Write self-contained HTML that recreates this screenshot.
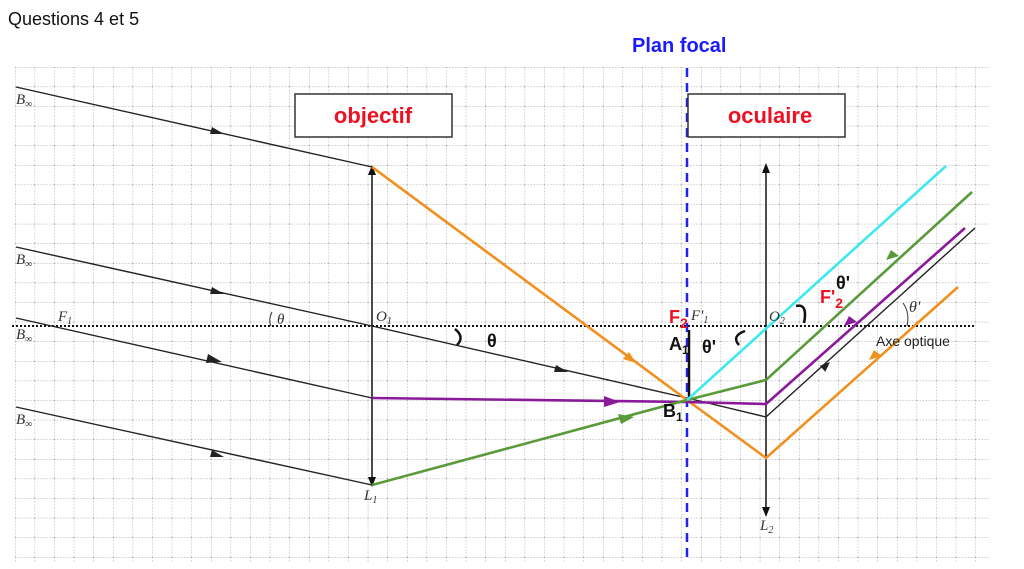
<!DOCTYPE html>
<html><head><meta charset="utf-8"><style>
html,body{margin:0;padding:0;background:#fff;}
svg{display:block;}
</style></head><body>
<svg width="1024" height="569" viewBox="0 0 1024 569" xmlns="http://www.w3.org/2000/svg" font-family="Liberation Sans, sans-serif">
<defs>
<pattern id="g" x="15" y="67" width="19.6" height="19.6" patternUnits="userSpaceOnUse">
<path d="M0 0V19.6M0 0H19.6" stroke="#999" stroke-width="0.9" stroke-dasharray="1.5 1.5" fill="none"/>
</pattern>
</defs>
<rect width="1024" height="569" fill="#fff"/>
<rect x="15" y="67" width="975" height="495" fill="url(#g)"/>
<text x="8" y="25" font-size="18" fill="#111">Questions 4 et 5</text>
<text x="632" y="52" font-size="20" font-weight="bold" fill="#1a1aff">Plan focal</text>
<!-- axis -->
<line x1="12" y1="326" x2="975" y2="326" stroke="#111" stroke-width="2" stroke-dasharray="2 2"/>
<!-- lenses -->
<line x1="372" y1="172" x2="372" y2="480" stroke="#111" stroke-width="1.5"/>
<path d="M372 165l-4 10h8z M372 487l-4-10h8z" fill="#111"/>
<line x1="766" y1="170" x2="766" y2="510" stroke="#111" stroke-width="1.5"/>
<path d="M766 163l-4 10h8z M766 517l-4-10h8z" fill="#111"/>
<!-- incident rays -->
<g stroke="#222" stroke-width="1.4" fill="none">
<polyline points="16,87 372,167"/>
<polyline points="16,247 372,326 687,398 766,417 975,228"/>
<polyline points="16,318 372,398"/>
<polyline points="16,407 372,485"/>
</g>
<g fill="#222">
<path d="M224 134l-12-7 -2 7z"/><path d="M224 294l-12-7 -2 7z"/><path d="M222 362l-14-8 -2 9z"/><path d="M224 457l-12-7 -2 7z"/><path d="M568 372l-12-7 -2 7z"/>
<path d="M830 362l-4.7 9.7 -5.4-6z"/>
</g>
<!-- focal plane -->
<line x1="687" y1="68" x2="687" y2="562" stroke="#2222ee" stroke-width="2.5" stroke-dasharray="9 6"/>
<!-- A1B1 -->
<line x1="689" y1="330" x2="689" y2="400" stroke="#111" stroke-width="2.5"/>
<!-- colored rays -->
<g fill="none" stroke-width="2.6">
<polyline points="372,167 687,400 766,458 958,287" stroke="#f0901e"/>
<polyline points="372,398 687,402 766,404 965,228" stroke="#8a1a9a"/>
<polyline points="372,485 687,400 766,380 972,192" stroke="#5a9a3a"/>
<line x1="687" y1="400" x2="946" y2="166" stroke="#3ee8f0"/>
</g>
<g>
<path d="M636 363l-13-4 6 -7z" fill="#f0901e"/>
<path d="M882 356l-13 4 5-10z" fill="#f0901e"/>
<path d="M620 402l-16-6v11z" fill="#8a1a9a"/>
<path d="M857 322l-13 4 5-10z" fill="#8a1a9a"/>
<path d="M634 417l-16-3 3 10z" fill="#5a9a3a"/>
<path d="M899 256l-13 4 5-10z" fill="#5a9a3a"/>
</g>
<!-- angle arcs -->
<path d="M455 329q10 8 2 16" stroke="#111" stroke-width="2.5" fill="none"/>
<path d="M745 331q-14 5 -6 14" stroke="#111" stroke-width="2.5" fill="none"/>
<path d="M796 306q12 -3 8 17" stroke="#111" stroke-width="2.5" fill="none"/>
<path d="M272 312q-4 8 -1 14" stroke="#333" stroke-width="1" fill="none"/>
<path d="M903 303q7 10 4 23" stroke="#333" stroke-width="1" fill="none"/>
<!-- boxes -->
<rect x="295" y="94" width="157" height="43" fill="#fff" stroke="#333" stroke-width="1.5"/>
<text x="373" y="123" font-size="22" font-weight="bold" fill="#ee1122" text-anchor="middle">objectif</text>
<rect x="688" y="94" width="157" height="43" fill="#fff" stroke="#333" stroke-width="1.5"/>
<text x="770" y="123" font-size="22" font-weight="bold" fill="#ee1122" text-anchor="middle">oculaire</text>
<!-- labels -->
<g font-family="Liberation Serif, serif" font-style="italic" fill="#333" font-size="15">
<text x="16" y="104">B<tspan font-size="10" dy="3">∞</tspan></text>
<text x="16" y="264">B<tspan font-size="10" dy="3">∞</tspan></text>
<text x="16" y="339">B<tspan font-size="10" dy="3">∞</tspan></text>
<text x="16" y="424">B<tspan font-size="10" dy="3">∞</tspan></text>
<text x="58" y="321">F<tspan font-size="10" dy="3">1</tspan></text>
<text x="376" y="321">O<tspan font-size="10" dy="3">1</tspan></text>
<text x="277" y="324">θ</text>
<text x="364" y="500">L<tspan font-size="10" dy="3">1</tspan></text>
<text x="760" y="530">L<tspan font-size="10" dy="3">2</tspan></text>
<text x="769" y="321">O<tspan font-size="10" dy="3">2</tspan></text>
<text x="691" y="320">F'<tspan font-size="10" dy="3">1</tspan></text>
<text x="909" y="312" font-size="16">θ'</text>
</g>
<g font-weight="bold" fill="#111" font-size="18">
<text x="487" y="347">θ</text>
<text x="702" y="353">θ'</text>
<text x="836" y="289">θ'</text>
<text x="669" y="350">A<tspan font-size="12" dy="4">1</tspan></text>
<text x="663" y="417">B<tspan font-size="12" dy="4">1</tspan></text>
</g>
<g font-weight="bold" fill="#ee1122" font-size="18">
<text x="669" y="323">F<tspan font-size="14" dy="5">2</tspan></text>
<text x="820" y="303">F'<tspan font-size="14" dy="5">2</tspan></text>
</g>
<text x="876" y="346" font-size="14" fill="#222">Axe optique</text>
</svg>
</body></html>
